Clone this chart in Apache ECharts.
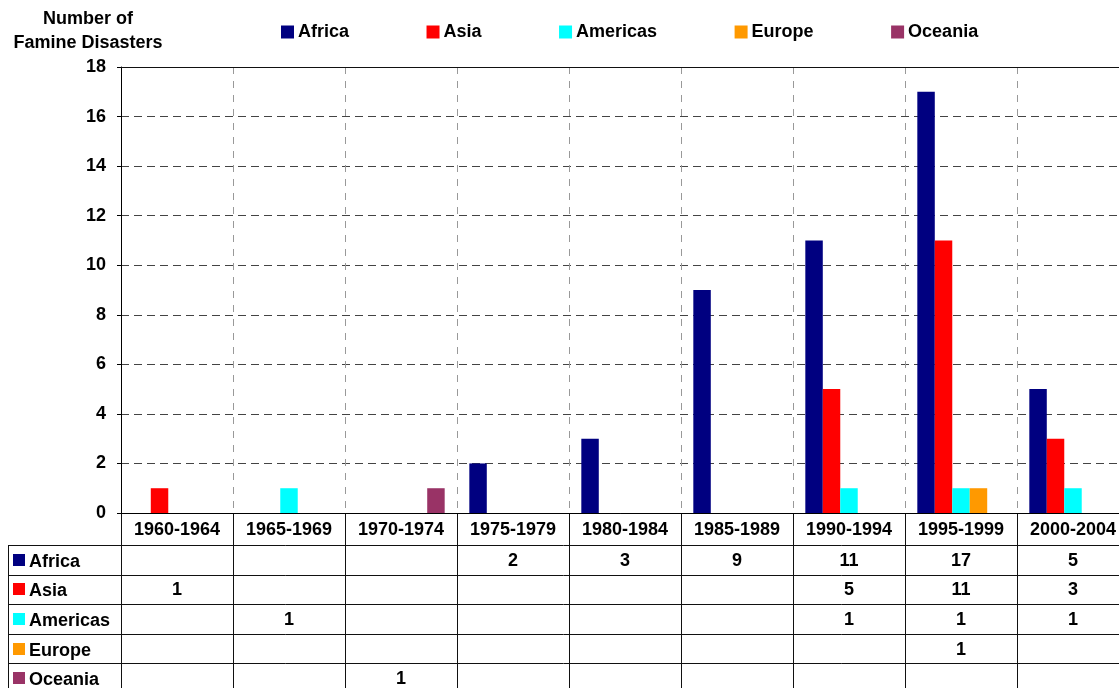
<!DOCTYPE html>
<html>
<head>
<meta charset="utf-8">
<script src="https://cdn.jsdelivr.net/npm/echarts@6/dist/echarts.min.js"></script>
<style>
html,body{margin:0;padding:0;background:#fff;}
#c{width:1119px;height:688px;}
</style>
</head>
<body>
<div id="c"></div>
<script>
// ---- data ----
const categories = ['1960-1964','1965-1969','1970-1974','1975-1979','1980-1984','1985-1989','1990-1994','1995-1999','2000-2004'];
const seriesNames = ['Africa','Asia','Americas','Europe','Oceania'];
const africa   = [null, null, null, 2,    3,    9,    11,   17,   5   ];
const asia     = [1,    null, null, null, null, null, 5,    11,   3   ];
const americas = [null, 1,    null, null, null, null, 1,    1,    1   ];
const europe   = [null, null, null, null, null, null, null, 1,    null];
const oceania  = [null, null, 1,    null, null, null, null, null, null];
const yTicks = [0,2,4,6,8,10,12,14,16,18];
const yTitle = 'Number of\nFamine Disasters';

// ---- styling ----
const colors = ['#000080','#FF0000','#00FFFF','#FF9900','#993366'];
const FONT = "'Liberation Sans', Arial, sans-serif";
const allSeries = [africa, asia, americas, europe, oceania];

const chart = echarts.init(document.getElementById('c'), null, {renderer:'canvas'});

const option = {
  animation: false,
  backgroundColor: '#fff',
  color: colors,
  grid: { left: 121, top: 67, right: -10, bottom: 175, containLabel: false, outerBoundsMode: 'none' },
  legend: {
    data: seriesNames,
    left: 276, top: 18,
    itemWidth: 13, itemHeight: 13, itemGap: 77.5,
    icon: 'rect',
    textStyle: { fontFamily: FONT, fontWeight: 'bold', fontSize: 18, color: '#000', padding: [0,0,0,-1] }
  },
  xAxis: {
    type: 'category',
    data: categories,
    boundaryGap: true,
    axisLine: { show: true, lineStyle: { color: '#000', width: 1 } },
    axisTick: { show: false },
    axisLabel: { margin: 8, fontFamily: FONT, fontWeight: 'bold', fontSize: 18, color: '#000', interval: 0 },
    splitLine: { show: true, interval: 0, lineStyle: { color: '#999', type: [7,7], width: 1 } }
  },
  yAxis: {
    type: 'value',
    min: yTicks[0], max: yTicks[yTicks.length-1], interval: yTicks[1]-yTicks[0],
    axisLine: { show: true, lineStyle: { color: '#000', width: 1 } },
    axisTick: { show: true, length: 4, lineStyle: { color: '#000' } },
    axisLabel: { margin: 15, fontFamily: FONT, fontWeight: 'bold', fontSize: 18, color: '#000' },
    splitLine: { show: true, lineStyle: { color: '#444', type: [8,5], width: 1 } }
  },
  series: seriesNames.map((n, i) => ({
    name: n,
    type: 'bar',
    data: allSeries[i],
    barGap: '0%',
    barCategoryGap: '22%',
    itemStyle: { color: colors[i] }
  }))
};
chart.setOption(option);

// ---- data table under the axis, positioned from the chart's own scales ----
function buildTable() {
  const c0 = chart.convertToPixel({xAxisIndex:0}, 0);
  const c1 = chart.convertToPixel({xAxisIndex:0}, 1);
  const band = c1 - c0;
  const y0 = chart.convertToPixel({yAxisIndex:0}, yTicks[0]);
  const yTop = chart.convertToPixel({yAxisIndex:0}, yTicks[yTicks.length-1]);
  const xLeftAxis = c0 - band/2;
  const W = chart.getWidth(), H = chart.getHeight();
  const headerH = 32, rowH = 29.6, tableLeft = 8;
  const g = [];
  const crisp = v => Math.round(v) + 0.5;
  const lineStyle = { stroke: '#111', lineWidth: 1 };

  // top border of plot
  g.push({ type:'line', shape:{x1: xLeftAxis, y1: crisp(yTop), x2: W, y2: crisp(yTop)}, style: lineStyle, z: 10 });

  // y-axis title
  g.push({ type:'text', x: 88, y: 7, style:{ text: yTitle, align:'center', verticalAlign:'top',
    font: "bold 18px " + FONT, lineHeight: 24, fill:'#000' } });

  const rowsTop = y0 + headerH;
  const tableBottom = rowsTop + rowH * seriesNames.length;
  // vertical lines: left border, axis, category boundaries
  g.push({ type:'line', shape:{x1: crisp(tableLeft), y1: rowsTop, x2: crisp(tableLeft), y2: tableBottom}, style: lineStyle });
  for (let k = 0; k <= categories.length; k++) {
    const x = crisp(c0 - band/2 + k*band - (k===0?0.5:0));
    g.push({ type:'line', shape:{x1: x, y1: y0, x2: x, y2: H}, style: lineStyle });
  }
  // horizontal row lines
  for (let r = 0; r <= seriesNames.length; r++) {
    const y = crisp(rowsTop + r*rowH);
    g.push({ type:'line', shape:{x1: tableLeft, y1: y, x2: W, y2: y}, style: lineStyle });
  }
  // row labels with color keys, values
  seriesNames.forEach((n, r) => {
    const cy = rowsTop + r*rowH + rowH/2;
    g.push({ type:'rect', shape:{x: 13, y: Math.round(cy - 6), width: 12, height: 12}, style:{ fill: colors[r] } });
    g.push({ type:'text', x: 29, y: cy + 2, style:{ text: n, align:'left', verticalAlign:'middle',
      font: "bold 18px " + FONT, fill:'#000' } });
    allSeries[r].forEach((v, i) => {
      if (v === null || v === undefined) return;
      const cx = chart.convertToPixel({xAxisIndex:0}, i);
      g.push({ type:'text', x: cx, y: cy + 1, style:{ text: String(v), align:'center', verticalAlign:'middle',
        font: "bold 18px " + FONT, fill:'#000' } });
    });
  });
  chart.setOption({ graphic: g });
}
buildTable();
</script>
</body>
</html>
